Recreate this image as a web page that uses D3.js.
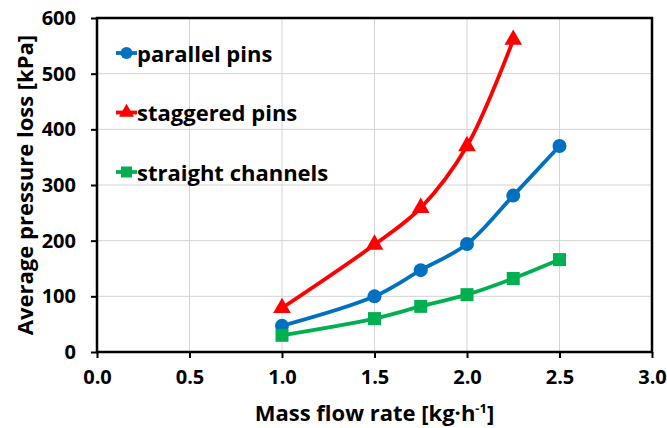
<!DOCTYPE html>
<html>
<head>
<meta charset="utf-8">
<script src="https://cdn.jsdelivr.net/npm/d3@7"></script>
<style>
    body { margin: 0; background: white; }
    svg { display: block; font-family: "Open Sans", sans-serif; font-weight: bold; }
</style>
</head>
<body>
<div id="chart"></div>
<script>
const flowRates = [1.0, 1.5, 1.75, 2.0, 2.25, 2.5];
const parallelPins = [47, 100, 147, 194, 281, 370];
const staggeredPins = [79, 193, 259, 370, 561];
const straightChannels = [30, 60, 82, 103, 132, 166];
const xTicks = [0, 0.5, 1, 1.5, 2, 2.5, 3];
const yTicks = [0, 100, 200, 300, 400, 500, 600];

const series = [
    { name: "parallel pins", values: parallelPins, color: "#0070c0", marker: "circle" },
    { name: "staggered pins", values: staggeredPins, color: "#ff0000", marker: "triangle" },
    { name: "straight channels", values: straightChannels, color: "#00b050", marker: "square" }
];

const width = 667;
const height = 428;
const margin = { top: 18, right: 15, bottom: 76, left: 97 };

const svg = d3.select("#chart")
    .append("svg")
    .attr("width", width)
    .attr("height", height);

const xScale = d3.scaleLinear().domain([0, 3]).range([margin.left, width - margin.right]);
const yScale = d3.scaleLinear().domain([0, 600]).range([height - margin.bottom, margin.top]);

// grid
svg.append("g")
    .selectAll("line")
    .data(xTicks)
    .enter().append("line")
    .attr("x1", d => xScale(d)).attr("x2", d => xScale(d))
    .attr("y1", yScale(0)).attr("y2", yScale(600))
    .attr("stroke", "#d4d4d4").attr("stroke-width", 1);

svg.append("g")
    .selectAll("line")
    .data(yTicks)
    .enter().append("line")
    .attr("x1", xScale(0)).attr("x2", xScale(3))
    .attr("y1", d => yScale(d)).attr("y2", d => yScale(d))
    .attr("stroke", "#d4d4d4").attr("stroke-width", 1);

// axes
const xAxis = svg.append("g")
    .attr("transform", `translate(0,${yScale(0)})`)
    .call(d3.axisBottom(xScale).tickValues(xTicks).tickFormat(d3.format(".1f")).tickSize(6).tickPadding(12));

const yAxis = svg.append("g")
    .attr("transform", `translate(${xScale(0)},0)`)
    .call(d3.axisLeft(yScale).tickValues(yTicks).tickSize(6).tickPadding(15));

[xAxis, yAxis].forEach(ax => {
    ax.select(".domain").remove();
    ax.selectAll(".tick line").attr("stroke", "black").attr("stroke-width", 2);
    ax.selectAll("text")
        .attr("fill", "black")
        .style("font-size", "20px")
        .style("font-weight", "bold")
        .style("font-family", "'Open Sans', sans-serif");
});

// frame
svg.append("rect")
    .attr("x", xScale(0)).attr("y", yScale(600))
    .attr("width", xScale(3) - xScale(0))
    .attr("height", yScale(0) - yScale(600))
    .attr("fill", "none")
    .attr("stroke", "black")
    .attr("stroke-width", 2.5);

const line = d3.line()
    .x(d => xScale(d[0]))
    .y(d => yScale(d[1]))
    .curve(d3.curveCatmullRom.alpha(0.5));

function drawMarker(g, type, color, size) {
    if (type === "circle") {
        g.append("circle").attr("r", size).attr("fill", color);
    } else if (type === "triangle") {
        g.append("path")
            .attr("d", d3.symbol().type(d3.symbolTriangle).size(size * size * 3.2)())
            .attr("fill", color);
    } else {
        g.append("rect")
            .attr("x", -size).attr("y", -size)
            .attr("width", size * 2).attr("height", size * 2)
            .attr("fill", color);
    }
}

series.forEach(s => {
    const pts = s.values.map((v, i) => [flowRates[i], v]);
    svg.append("path")
        .datum(pts)
        .attr("fill", "none")
        .attr("stroke", s.color)
        .attr("stroke-width", 3.8)
        .attr("d", line);

    pts.forEach(p => {
        const g = svg.append("g").attr("transform", `translate(${xScale(p[0])},${yScale(p[1])})`);
        drawMarker(g, s.marker, s.color, s.marker === "circle" ? 7 : 6.5);
    });
});

// legend
const legend = svg.append("g").attr("transform", "translate(116,53)");
series.forEach((s, i) => {
    const row = legend.append("g").attr("transform", `translate(0,${i * 59.5})`);
    row.append("line")
        .attr("x1", 0).attr("x2", 21)
        .attr("stroke", s.color).attr("stroke-width", 3.8);
    const m = row.append("g").attr("transform", "translate(10.5,0)");
    drawMarker(m, s.marker, s.color, s.marker === "circle" ? 6 : 5.5);
    row.append("text")
        .attr("x", 21).attr("y", 8.5)
        .style("font-size", "22px")
        .text(s.name);
});

// axis titles
const xTitle = svg.append("text")
    .attr("x", xScale(1.5))
    .attr("y", 421)
    .attr("text-anchor", "middle")
    .style("font-size", "22px");
xTitle.append("tspan").text("Mass flow rate [kg·h");
xTitle.append("tspan").attr("dy", -8).style("font-size", "13px").text("-1");
xTitle.append("tspan").attr("dy", 8).text("]");

svg.append("text")
    .attr("transform", `translate(33,${yScale(300)}) rotate(-90)`)
    .attr("text-anchor", "middle")
    .style("font-size", "22px")
    .text("Average pressure loss [kPa]");
</script>
</body>
</html>
